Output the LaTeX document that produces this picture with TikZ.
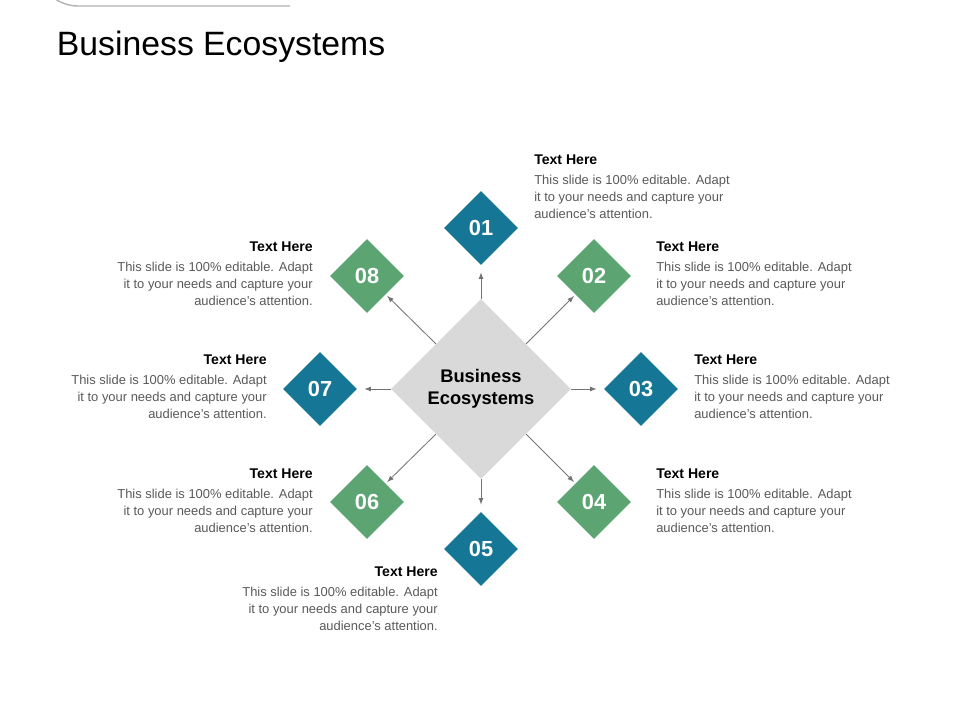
\documentclass[tikz,border=0pt]{standalone}
\usepackage{fontspec}
\setmainfont{Liberation Sans}
\usetikzlibrary{shapes.geometric,positioning}
\definecolor{ecoblue}{RGB}{22,118,150}
\definecolor{ecogreen}{RGB}{92,165,115}
\definecolor{ecogray}{RGB}{217,217,217}
\definecolor{bodygray}{RGB}{89,89,89}
\tikzset{
  numbox/.style={diamond,minimum width=1.85cm,minimum height=1.85cm,inner sep=0pt,
    text=white,font=\fontsize{15.5}{18}\selectfont\bfseries},
  linkarrow/.style={draw=gray!90!black,line width=0.6pt,-latex},
  infotext/.style={inner sep=0pt,text=bodygray,font=\fontsize{9.2}{12}\selectfont}
}
\newcommand{\infoblock}{\textcolor{black}{\fontsize{10}{12}\selectfont\bfseries Text Here}\\[2pt]
This slide is 100\% editable. Adapt\\ it to your needs and capture your\\ audience's attention.}
\begin{document}
\begin{tikzpicture}[x=0.025cm,y=-0.025cm]
\useasboundingbox (0,0) rectangle (960,720);
% heading
\draw[gray!60,line width=1pt] (290,6) -- (78,6) arc (90:270:40);
\node[anchor=west,font=\fontsize{24}{28}\selectfont] (title) at (52,47) {Business Ecosystems};

% hub
\node[diamond,fill=ecogray,minimum width=4.5cm,minimum height=4.5cm,inner sep=0pt,align=center,
  font=\fontsize{13}{16}\selectfont\bfseries] (hub) at (481,389) {Business\\Ecosystems};

% satellites
\node[numbox,fill=ecoblue]  (n1) at (481,228) {01};
\node[numbox,fill=ecogreen] (n2) at (594,276) {02};
\node[numbox,fill=ecoblue]  (n3) at (641,389) {03};
\node[numbox,fill=ecogreen] (n4) at (594,502) {04};
\node[numbox,fill=ecoblue]  (n5) at (481,549) {05};
\node[numbox,fill=ecogreen] (n6) at (367,502) {06};
\node[numbox,fill=ecoblue]  (n7) at (320,389) {07};
\node[numbox,fill=ecogreen] (n8) at (367,276) {08};

\foreach \a/\b in {north/1,east/3,south/5,west/7}
  \draw[linkarrow,shorten >=0.18cm] (hub.\a) -- (n\b);
\foreach \a/\b in {north east/2,south east/4,south west/6,north west/8}
  \draw[linkarrow,shorten >=0.05cm] (hub.\a) -- (n\b);

% texts
\node[infotext,anchor=north west,align=left]  (t1) at (534,155) {\infoblock};
\node[infotext,anchor=north west,align=left]  (t2) at (656,242) {\infoblock};
\node[infotext,anchor=north west,align=left]  (t3) at (694,355) {\infoblock};
\node[infotext,anchor=north west,align=left]  (t4) at (656,469) {\infoblock};
\node[infotext,anchor=north east,align=right] (t5) at (438,567) {\infoblock};
\node[infotext,anchor=north east,align=right] (t6) at (313,469) {\infoblock};
\node[infotext,anchor=north east,align=right] (t7) at (267,355) {\infoblock};
\node[infotext,anchor=north east,align=right] (t8) at (313,242) {\infoblock};
\end{tikzpicture}
\end{document}
